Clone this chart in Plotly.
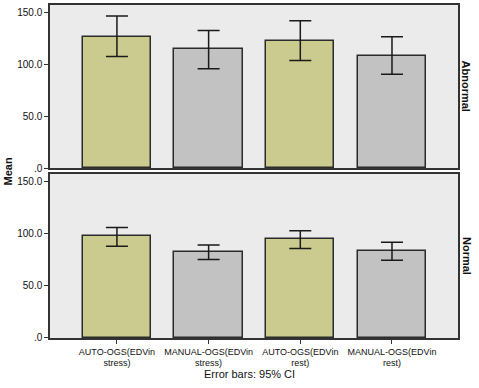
import plotly.graph_objects as go

categories = ["AUTO-OGS(EDVin<br>stress)", "MANUAL-OGS(EDVin<br>stress)",
              "AUTO-OGS(EDVin<br>rest)", "MANUAL-OGS(EDVin<br>rest)"]
panels = ["Abnormal", "Normal"]
abnormal_mean = [126.5, 114.8, 122.9, 108.4]
abnormal_hi = [146.8, 132.9, 142.3, 126.8]
abnormal_lo = [107.7, 95.8, 103.9, 90.7]
normal_mean = [97.5, 82.7, 94.9, 83.4]
normal_hi = [106.1, 89.4, 102.9, 92.0]
normal_lo = [88.2, 75.4, 86.0, 74.7]
y_ticks = [0, 50, 100, 150]
y_tick_labels = [".0", "50.0", "100.0", "150.0"]

bar_colors = ["#CCCB8F", "#C2C2C2", "#CCCB8F", "#C2C2C2"]
xs = list(range(len(categories)))

fig = go.Figure()
dom_top = [0.5105, 1.0]
dom_bot = [0.0, 0.4925]

def add_panel(means, hi, lo, yaxis_name, xaxis_name):
    fig.add_trace(go.Bar(
        x=xs, y=means, width=0.745,
        marker=dict(color=bar_colors, line=dict(color="#2b2b2b", width=1.5)),
        error_y=dict(type="data", symmetric=False,
                     array=[h - m for h, m in zip(hi, means)],
                     arrayminus=[m - l for m, l in zip(means, lo)],
                     color="#1a1a1a", thickness=1.5, width=11),
        xaxis=xaxis_name, yaxis=yaxis_name, showlegend=False,
        hoverinfo="skip"))

add_panel(abnormal_mean, abnormal_hi, abnormal_lo, "y", "x")
add_panel(normal_mean, normal_hi, normal_lo, "y2", "x2")

FONT = "Liberation Sans, Arial, sans-serif"
axis_font = dict(family=FONT, size=10, color="#111")
xcommon = dict(range=[-0.73, 3.72], showgrid=False, zeroline=False,
               showline=True, linecolor="#333", linewidth=1.5, mirror=True,
               automargin=False)
ycommon = dict(range=[0, 157.5], showgrid=False, zeroline=False,
               showline=True, linecolor="#333", linewidth=1.5, mirror=True,
               tickvals=y_ticks, ticktext=y_tick_labels, ticks="outside",
               ticklen=4, tickcolor="#333", tickfont=axis_font, automargin=False)

strip_font = dict(family=FONT, size=11, color="#111")
fig.update_layout(
    xaxis=dict(**xcommon, anchor="y", showticklabels=False, tickvals=xs),
    xaxis2=dict(**xcommon, anchor="y2", tickvals=xs, ticktext=categories,
                ticks="outside", ticklen=4, tickcolor="#333", tickangle=0,
                tickfont=dict(family=FONT, size=9, color="#111")),
    yaxis=dict(**ycommon, domain=dom_top, anchor="x"),
    yaxis2=dict(**ycommon, domain=dom_bot, anchor="x2"),
    plot_bgcolor="#EBEBEB", paper_bgcolor="white",
    width=479, height=388,
    margin=dict(l=50, r=21, t=5, b=50, autoexpand=False),
    bargap=0,
    annotations=[
        dict(text="<b>Abnormal</b>", x=1.022, y=(dom_top[0] + dom_top[1]) / 2,
             xref="paper", yref="paper", textangle=90, showarrow=False,
             xanchor="center", yanchor="middle", font=strip_font),
        dict(text="<b>Normal</b>", x=1.022, y=(dom_bot[0] + dom_bot[1]) / 2,
             xref="paper", yref="paper", textangle=90, showarrow=False,
             xanchor="center", yanchor="middle", font=strip_font),
        dict(text="<b>Mean</b>", x=-0.103, y=0.5,
             xref="paper", yref="paper", textangle=-90, showarrow=False,
             xanchor="center", yanchor="middle", font=strip_font),
        dict(text="Error bars: 95% CI", x=0.49, y=-0.108,
             xref="paper", yref="paper", showarrow=False,
             xanchor="center", yanchor="middle", font=strip_font),
    ],
)

fig.write_html("out.html", config={"displayModeBar": False},
               post_script="document.body.style.margin='0px';document.body.style.overflow='hidden';")
